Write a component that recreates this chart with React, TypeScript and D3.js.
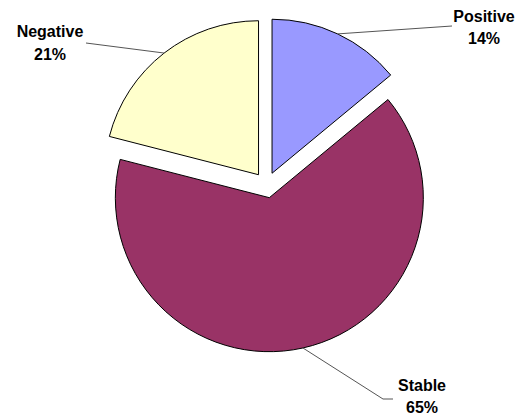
import React from "react";
import * as d3 from "d3";

const categories = ["Positive", "Stable", "Negative"];
const values = [14, 65, 21];
const colors = ["#9999FF", "#993366", "#FFFFCC"];

// label layout (not data): text center x, first baseline, second baseline, leader end
const labelLayout = [
  { x: 484, y1: 22, y2: 44, lx: 452, ly: 26, hx: null as number | null },
  { x: 422, y1: 391, y2: 413, lx: 383, ly: 399, hx: 393 as number | null },
  { x: 50, y1: 37, y2: 60, lx: 86, ly: 43, hx: null as number | null },
];

const W = 518;
const H = 417;
const cx = 266.5;
const cy = 185;
const R = 154;
const explode = 13;

export default function App() {
  const pie = d3.pie<number>().sort(null).value((d) => d);
  const arcs = pie(values);
  const arcGen = d3.arc<d3.PieArcDatum<number>>().innerRadius(0).outerRadius(R);
  const total = d3.sum(values);

  return (
    <svg
      width={W}
      height={H}
      style={{ position: "absolute", left: 0, top: 0, background: "#fff" }}
      fontFamily="'Liberation Sans', Arial, sans-serif"
    >
      {arcs.map((a, i) => {
        const mid = (a.startAngle + a.endAngle) / 2;
        const ox = cx + Math.sin(mid) * explode;
        const oy = cy - Math.cos(mid) * explode;
        const px = ox + Math.sin(mid) * R;
        const py = oy - Math.cos(mid) * R;
        const L = labelLayout[i];
        const pts = L.hx != null
          ? `${px},${py} ${L.lx},${L.ly} ${L.hx},${L.ly}`
          : `${px},${py} ${L.lx},${L.ly}`;
        return (
          <g key={categories[i]}>
            <path
              d={arcGen(a) || ""}
              transform={`translate(${ox},${oy})`}
              fill={colors[i]}
              stroke="#000"
              strokeWidth={1}
              strokeLinejoin="round"
            />
            <polyline points={pts} fill="none" stroke="#555" strokeWidth={1} />
          </g>
        );
      })}
      {arcs.map((a, i) => {
        const L = labelLayout[i];
        const pct = Math.round((values[i] / total) * 100);
        return (
          <g key={"t" + i} fontWeight="bold" fontSize={16} textAnchor="middle" fill="#000">
            <text x={L.x} y={L.y1}>{categories[i]}</text>
            <text x={L.x} y={L.y2}>{pct}%</text>
          </g>
        );
      })}
    </svg>
  );
}
